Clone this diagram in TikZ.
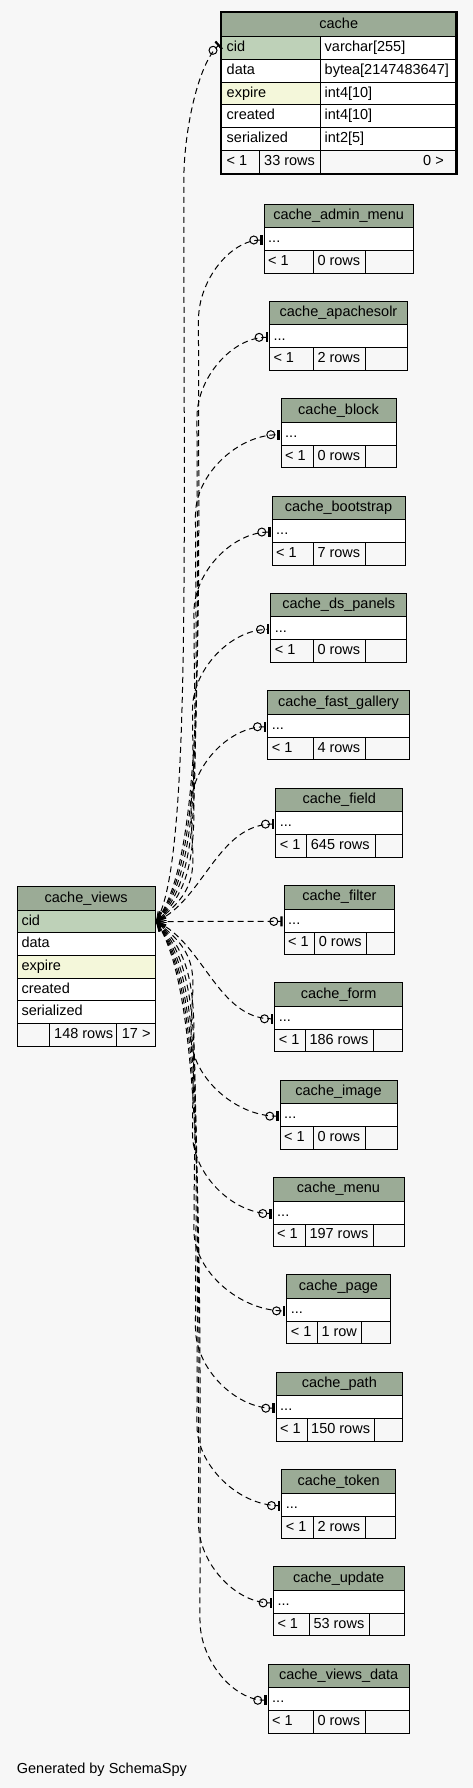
\documentclass[tikz,border=0pt]{standalone}
\usepackage{fontspec}
\setmainfont{Liberation Sans}
\usetikzlibrary{arrows.meta}
\definecolor{bgc}{HTML}{F7F7F7}
\definecolor{hdrc}{HTML}{9BAB96}
\definecolor{pkc}{HTML}{BED1B8}
\definecolor{idxc}{HTML}{F4F7DA}
\begin{document}
\begin{tikzpicture}[x=1pt,y=1pt,
  txt/.style={font=\fontsize{14.5}{16}\selectfont, inner sep=0pt, text height=10.4pt, text depth=3pt},
  lt/.style={txt, anchor=west},
  rt/.style={txt, anchor=east},
  ct/.style={txt, anchor=center},
  cellb/.style={draw=black, line width=0.9pt},
  conn/.style={draw=black, line width=1pt, dash pattern=on 6pt off 4pt,
    {Straight Barb[length=9pt,width=7pt,line width=0.8pt]}-{Circle[open,length=9pt,width=9pt,sep=2pt]Rectangle[length=2.2pt,width=10pt]}}
]
\fill[bgc] (0,0) rectangle (473,-1788);
\useasboundingbox (0,0) rectangle (473,-1788);

% ---------- cache table ----------
\filldraw[cellb, fill=hdrc] (221,-12) rectangle (456.5,-36.7);
\node[ct] (cacheT) at (338.75,-24.35) {cache};
\foreach \n/\c/\t [count=\k from 0] in {cid/pkc/varchar[255], data/white/bytea[2147483647], expire/idxc/int4[10], created/white/int4[10], serialized/white/int2[5]}{
  \pgfmathsetmacro\ya{36.7+22.66*\k}
  \pgfmathsetmacro\yb{\ya+22.66}
  \filldraw[cellb, fill=\c] (221,-\ya) rectangle (320,-\yb);
  \filldraw[cellb, fill=white] (320,-\ya) rectangle (456.5,-\yb);
  \node[lt] (cache-\n) at (226.5,{-(\ya+\yb)/2}) {\n};
  \node[lt] (cache-\n-t) at (324.5,{-(\ya+\yb)/2}) {\t};
}
\filldraw[cellb, fill=bgc] (221,-150) rectangle (259.3,-174);
\filldraw[cellb, fill=bgc] (259.3,-150) rectangle (320,-174);
\filldraw[cellb, fill=bgc] (320,-150) rectangle (456.5,-174);
\node[lt] (cache-prev) at (226.5,-162) {< 1};
\node[lt] (cache-rows) at (264,-162) {33 rows};
\node[rt] (cache-next) at (444,-162) {0 >};
\draw[line width=2.7pt] (221,-12) rectangle (456.5,-174);
\coordinate (ecache) at (219.5,-44.5);

% ---------- cache_views table ----------
\filldraw[cellb, fill=hdrc] (17.3,-886.7) rectangle (155,-910);
\node[ct] (cvT) at (86.15,-898.35) {cache\_views};
\foreach \n/\c [count=\k from 0] in {cid/pkc, data/white, expire/idxc, created/white, serialized/white}{
  \pgfmathsetmacro\ya{910+22.66*\k}
  \pgfmathsetmacro\yb{\ya+22.66}
  \filldraw[cellb, fill=\c] (17.3,-\ya) rectangle (155,-\yb);
  \node[lt] (cv-\n) at (21.3,{-(\ya+\yb)/2}) {\n};
}
\filldraw[cellb, fill=bgc] (17.3,-1023.3) rectangle (49.3,-1046.3);
\filldraw[cellb, fill=bgc] (49.3,-1023.3) rectangle (116.7,-1046.3);
\filldraw[cellb, fill=bgc] (116.7,-1023.3) rectangle (155,-1046.3);
\node[lt] (cv-rows) at (54,-1034.8) {148 rows};
\node[rt] (cv-next) at (150.7,-1034.8) {17 >};
\coordinate (cvo) at (156,-921.5);

% ---------- connector to cache ----------
\draw[conn] (cvo) .. controls (192,-860) and (183,-520) .. (184,-170)
  .. controls (186,-120) and (200,-62) .. (ecache);

% ---------- small tables ----------
\foreach \i/\ttl/\xl/\xr/\sa/\sb/\rows in {
  0/cache\_admin\_menu/264/413.3/313.3/365.3/0 rows,
  1/cache\_apachesolr/269.3/407.7/313.3/365.3/2 rows,
  2/cache\_block/281/396/313.3/365/0 rows,
  3/cache\_bootstrap/272/405/313.3/365/7 rows,
  4/cache\_ds\_panels/270.7/406.7/313.3/365/0 rows,
  5/cache\_fast\_gallery/267.7/409.3/313.3/365/4 rows,
  6/cache\_field/275.7/402.7/306.7/375/645 rows,
  7/cache\_filter/284/394.7/314.7/366.7/0 rows,
  8/cache\_form/274.7/402.7/305.3/373.3/186 rows,
  9/cache\_image/280/397/313.3/365/0 rows,
  10/cache\_menu/273/404/305.3/373.3/197 rows,
  11/cache\_page/286.7/390.3/317.3/361.7/1 row,
  12/cache\_path/276/402.7/307/374.7/150 rows,
  13/cache\_token/281.7/395.7/313.3/365/2 rows,
  14/cache\_update/273.3/404/309.3/369.3/53 rows,
  15/cache\_views\_data/268/409.3/313.3/365.3/0 rows}{
  \pgfmathsetmacro\tp{204+97.35*\i}
  \pgfmathsetmacro\ya{\tp+23.5}
  \pgfmathsetmacro\yb{\ya+23}
  \pgfmathsetmacro\yc{\yb+22.5}
  \filldraw[cellb, fill=hdrc] (\xl,-\tp) rectangle (\xr,-\ya);
  \node[ct] (h\i) at ({(\xl+\xr)/2},{-(\tp+\ya)/2}) {\ttl};
  \filldraw[cellb, fill=white] (\xl,-\ya) rectangle (\xr,-\yb);
  \node[lt] (r\i) at (\xl+4,{-(\ya+\yb)/2}) {...};
  \filldraw[cellb, fill=bgc] (\xl,-\yb) rectangle (\sa,-\yc);
  \filldraw[cellb, fill=bgc] (\sa,-\yb) rectangle (\sb,-\yc);
  \filldraw[cellb, fill=bgc] (\sb,-\yb) rectangle (\xr,-\yc);
  \node[lt] (p\i) at (\xl+4,{-(\yb+\yc)/2}) {< 1};
  \node[lt] (n\i) at (\sa+4,{-(\yb+\yc)/2}) {\rows};
  \pgfmathsetmacro\yt{\tp+36}
  \coordinate (e\i) at (\xl-1.5,-\yt);
  \pgfmathsetmacro\dy{\yt-921.5}
  \pgfmathsetmacro\ady{abs(\dy)}
  \pgfmathtruncatemacro\kind{\ady<5 ? 0 : (\ady<150 ? 1 : 2)}
  \pgfmathsetmacro\sg{\dy>0 ? 1 : -1}
  \pgfmathsetmacro\xm{188+12*\ady/780}
  \pgfmathsetmacro\My{\yt-(\sg)*80}
  \pgfmathsetmacro\cay{921.5+(\sg)*(25+0.06*\ady)}
  \pgfmathsetmacro\cby{\My-(\sg)*0.5*abs(\My-921.5)}
  \pgfmathsetmacro\ccy{\yt-(\sg)*40}
  \pgfmathsetmacro\cdx{\xm+0.5*(\xl-1.5-\xm)}
  \pgfmathsetmacro\nay{921.5+0.22*\dy}
  \ifcase\kind
    \draw[conn] (cvo) -- (e\i);
  \or
    \draw[conn] (cvo) .. controls (203,-\nay) and (218,-\yt) .. (e\i);
  \or
    \draw[conn] (cvo) .. controls (205,-\cay) and (\xm,-\cby) .. (\xm,-\My) .. controls (\xm,-\ccy) and (\cdx,-\yt) .. (e\i);
  \fi
}

\node[lt] (gen) at (16.7,-1769.6) {Generated by SchemaSpy};
\end{tikzpicture}
\end{document}
